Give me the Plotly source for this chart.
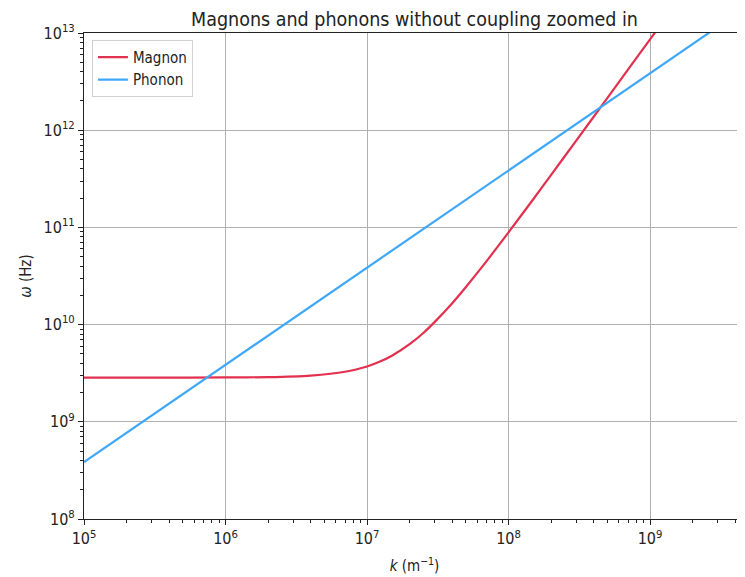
import plotly.graph_objects as go

# Data
magnon_k = [1e5, 3e5, 1e6, 2e6, 4e6, 7e6, 1e7, 1.2e7, 1.5e7, 2e7, 2.5e7, 3e7, 4e7, 5e7, 7e7,
            1e8, 1.5e8, 2e8, 3e8, 5e8, 7e8, 1e9, 1.2e9]
magnon_w = [2.85e9, 2.85e9, 2.86e9, 2.88e9, 2.99e9, 3.27e9, 3.71e9, 4.09e9, 4.79e9, 6.29e9,
            8.2e9, 1.06e10, 1.66e10, 2.44e10, 4.5e10,
            8.9e10, 1.96e11, 3.47e11, 7.77e11, 2.15e12, 4.22e12, 8.6e12, 1.24e13]
phonon_k = [1e5, 1e6, 1e7, 1e8, 1e9, 5e9]
phonon_w = [3.85e8, 3.85e9, 3.85e10, 3.85e11, 3.85e12, 1.925e13]

x_major = [1e5, 1e6, 1e7, 1e8, 1e9]
x_labels = ["10<sup>5</sup>", "10<sup>6</sup>", "10<sup>7</sup>", "10<sup>8</sup>", "10<sup>9</sup>"]
y_major = [1e8, 1e9, 1e10, 1e11, 1e12, 1e13]
y_labels = ["10<sup>8</sup>", "10<sup>9</sup>", "10<sup>10</sup>", "10<sup>11</sup>", "10<sup>12</sup>", "10<sup>13</sup>"]

x_minor = [m * 10.0**e for e in range(5, 10) for m in range(2, 10)]
y_minor = [m * 10.0**e for e in range(8, 13) for m in range(2, 10)]

fig = go.Figure()
fig.add_trace(go.Scatter(x=magnon_k, y=magnon_w, mode="lines", name="Magnon",
                         line=dict(color="#E2304F", width=2.2, shape="spline", smoothing=0.6)))
fig.add_trace(go.Scatter(x=phonon_k, y=phonon_w, mode="lines", name="Phonon",
                         line=dict(color="#3FA7F8", width=2.2)))

font_family = "DejaVu Sans Condensed, DejaVu Sans"
fig.update_layout(
    width=745, height=577,
    margin=dict(l=76, r=8, t=25, b=66, autoexpand=False),
    paper_bgcolor="white", plot_bgcolor="white",
    font=dict(family=font_family, size=15, color="#222222"),
    title=dict(text="Magnons and phonons without coupling zoomed in", x=0.5, xanchor="center",
               xref="paper", y=0.981, yref="container", yanchor="middle", automargin=False,
               font=dict(size=19.5, family=font_family, color="#222222")),
    showlegend=True,
    legend=dict(x=0.012, y=0.986, xanchor="left", yanchor="top",
                bgcolor="rgba(255,255,255,0.8)", bordercolor="#d0d0d0", borderwidth=1,
                font=dict(size=15, family=font_family), tracegroupgap=0),
)
fig.update_xaxes(
    type="log", range=[5, 9.671], automargin=False,
    tickvals=x_major, ticktext=x_labels, ticks="outside", ticklen=5, tickcolor="#222222",
    showgrid=True, gridcolor="#b0b0b0", gridwidth=1,
    showline=True, linecolor="#222222", linewidth=1.2, mirror=True,
    minor=dict(tickvals=x_minor, ticks="outside", ticklen=3, tickcolor="#222222", showgrid=False),
    tickfont=dict(size=16),
    title=dict(text="<i>k</i> (m<sup>−1</sup>)", font=dict(size=15), standoff=13),
    zeroline=False,
)
fig.update_yaxes(
    type="log", range=[8, 13], automargin=False,
    tickvals=y_major, ticktext=y_labels, ticks="outside", ticklen=5, tickcolor="#222222",
    showgrid=True, gridcolor="#b0b0b0", gridwidth=1,
    showline=True, linecolor="#222222", linewidth=1.2, mirror=False,
    minor=dict(tickvals=y_minor, ticks="outside", ticklen=3, tickcolor="#222222", showgrid=False),
    tickfont=dict(size=16),
    title=dict(text="<i>ω</i> (Hz)", font=dict(size=15), standoff=8),
    zeroline=False,
)

fig.write_html("out.html")
